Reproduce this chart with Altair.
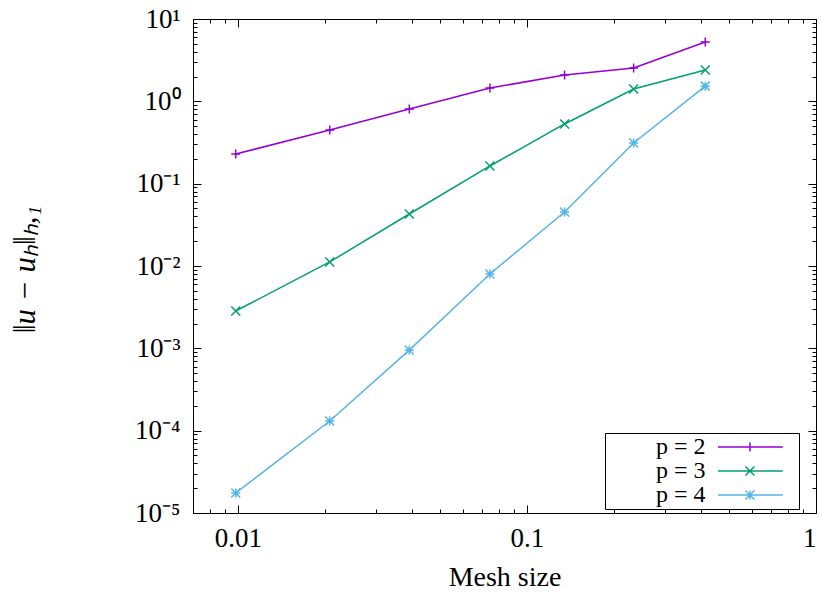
import altair as alt
import pandas as pd

# ---- data ----
mesh = [0.00984, 0.0208, 0.0392, 0.0745, 0.135, 0.234, 0.414]
err_p2 = [0.229, 0.449, 0.807, 1.45, 2.09, 2.54, 5.26]
err_p3 = [0.00284, 0.0112, 0.0428, 0.164, 0.531, 1.41, 2.40]
err_p4 = [1.75e-5, 1.31e-4, 9.5e-4, 8.0e-3, 0.0453, 0.312, 1.53]
series_names = ["p = 2", "p = 3", "p = 4"]
series_colors = ["#9400d3", "#009e73", "#56b4e9"]

x_major = [0.01, 0.1, 1]
x_minor = [0.007, 0.008, 0.009, 0.02, 0.03, 0.04, 0.05, 0.06, 0.07, 0.08, 0.09,
           0.2, 0.3, 0.4, 0.5, 0.6, 0.7, 0.8, 0.9]
y_major = [1e-5, 1e-4, 1e-3, 1e-2, 1e-1, 1, 10]
y_minor = [2e-5, 3e-5, 4e-5, 5e-5, 6e-5, 7e-5, 8e-5, 9e-5,
           2e-4, 3e-4, 4e-4, 5e-4, 6e-4, 7e-4, 8e-4, 9e-4,
           2e-3, 3e-3, 4e-3, 5e-3, 6e-3, 7e-3, 8e-3, 9e-3,
           2e-2, 3e-2, 4e-2, 5e-2, 6e-2, 7e-2, 8e-2, 9e-2,
           0.2, 0.3, 0.4, 0.5, 0.6, 0.7, 0.8, 0.9,
           2, 3, 4, 5, 6, 7, 8, 9]

rows = []
for name, vals in zip(series_names, [err_p2, err_p3, err_p4]):
    for h, e in zip(mesh, vals):
        rows.append({"mesh": h, "err": e, "series": name})
df = pd.DataFrame(rows)

W, H = 623, 494
FONT = "Liberation Serif"

xs = alt.Scale(type="log", domain=[0.007, 1], nice=False)
ys = alt.Scale(type="log", domain=[1e-5, 10], nice=False)

sup_expr = ("'10' + replace(replace(replace(replace(replace(replace(replace("
            "toString(round(log(datum.value)/LN10)),'-','\u207b'),'0','\u2070'),"
            "'1','\u00b9'),'2','\u00b2'),'3','\u00b3'),'4','\u2074'),'5','\u2075')")

# marker glyphs (+, x, *) and legend samples (line with marker)
point_shapes = ["M-1,0L1,0M0,-1L0,1",
                "M-1,-1L1,1M-1,1L1,-1",
                "M-1,0L1,0M0,-1L0,1M-1,-1L1,1M-1,1L1,-1"]
leg_shapes = ["M22,0L36.4,0M29.1,-1L29.1,1M38.8,0",
              "M22,0L36.4,0M28.1,-1L30.1,1M28.1,1L30.1,-1M38.8,0",
              "M22,0L36.4,0M28.1,0L30.1,0M29.1,-1L29.1,1M28.1,-1L30.1,1M28.1,1L30.1,-1M38.8,0"]

color_scale = alt.Scale(domain=series_names, range=series_colors)

legend_def = alt.Legend(
    title=None, orient="none", legendX=412, legendY=414,
    strokeColor="black", fillColor="white", padding=2,
    labelFont=FONT, labelFontSize=24, labelColor="black",
    labelAlign="right", labelOffset=74.5,
    symbolSize=81, symbolStrokeWidth=1.5, rowPadding=0,
)


def tick_axis(orient, values, size, offset):
    return alt.Axis(orient=orient, values=values, labels=False, ticks=True, tickSize=size,
                    tickColor="black", tickWidth=1, domain=False, grid=False,
                    offset=offset, title=None)


base = alt.Chart(df)

lines = base.mark_line(strokeWidth=1.5).encode(
    x=alt.X("mesh:Q", scale=xs, axis=alt.Axis(
        orient="bottom", values=x_major, labelExpr="format(datum.value, '~g')",
        ticks=False, tickSize=0, domain=False, grid=False,
        labelFont=FONT, labelFontSize=27, labelColor="black", labelPadding=12,
        title="Mesh size", titleFont=FONT, titleFontSize=28, titleFontWeight="normal",
        titleColor="black", titleY=72, titleBaseline="alphabetic")),
    y=alt.Y("err:Q", scale=ys, axis=alt.Axis(
        orient="left", values=y_major, labelExpr=sup_expr,
        ticks=False, tickSize=0, domain=False, grid=False,
        labelFont=FONT, labelFontSize=27, labelColor="black", labelPadding=13,
        title="\u2016u \u2212 u\u2095\u2016\u2095,\u2081", titleFont=FONT, titleFontSize=31,
        titleFontStyle="italic", titleFontWeight="normal", titleColor="black",
        titleX=-168, titleY=250, titleAngle=270, titleAlign="center",
        titleBaseline="middle")),
    color=alt.Color("series:N", scale=color_scale, legend=None),
)

points = base.mark_point(filled=False, size=81, strokeWidth=1.5, opacity=1).encode(
    x=alt.X("mesh:Q", scale=xs, axis=tick_axis("top", x_major, 8, -H)),
    y=alt.Y("err:Q", scale=ys, axis=tick_axis("right", y_major, 8, -W)),
    color=alt.Color("series:N", scale=color_scale, legend=None),
    shape=alt.Shape("series:N", scale=alt.Scale(domain=series_names, range=point_shapes),
                    legend=None),
)

legend_layer = base.transform_filter("datum.err < 0").mark_point(
    filled=False, size=81, strokeWidth=1.5, opacity=1).encode(
    x=alt.X("mesh:Q", scale=xs, axis=None),
    y=alt.Y("err:Q", scale=ys, axis=None),
    color=alt.Color("series:N", scale=color_scale, legend=legend_def),
    shape=alt.Shape("series:N", scale=alt.Scale(domain=series_names, range=leg_shapes),
                    legend=legend_def),
)

dummy3 = base.mark_point(opacity=0).encode(
    x=alt.X("mesh:Q", scale=xs, axis=tick_axis("top", x_minor, 4, -H)),
    y=alt.Y("err:Q", scale=ys, axis=tick_axis("right", y_minor, 4, -W)),
)
dummy4 = base.mark_point(opacity=0).encode(
    x=alt.X("mesh:Q", scale=xs, axis=tick_axis("bottom", x_major, 8, -H)),
    y=alt.Y("err:Q", scale=ys, axis=tick_axis("left", y_major, 8, -W)),
)
dummy5 = base.mark_point(opacity=0).encode(
    x=alt.X("mesh:Q", scale=xs, axis=tick_axis("bottom", x_minor, 4, -H)),
    y=alt.Y("err:Q", scale=ys, axis=tick_axis("left", y_minor, 4, -W)),
)

chart = alt.layer(lines, points, dummy3, dummy4, dummy5, legend_layer).resolve_axis(
    x="independent", y="independent"
).resolve_scale(
    color="independent", shape="independent"
).properties(
    width=W, height=H,
    autosize=alt.AutoSizeParams(type="none"),
    padding={"left": 193, "top": 19, "right": 6, "bottom": 82},
    background="white",
).configure_view(stroke="black", strokeWidth=1)

chart.save("out.html", embed_options={"renderer": "svg", "actions": False})
